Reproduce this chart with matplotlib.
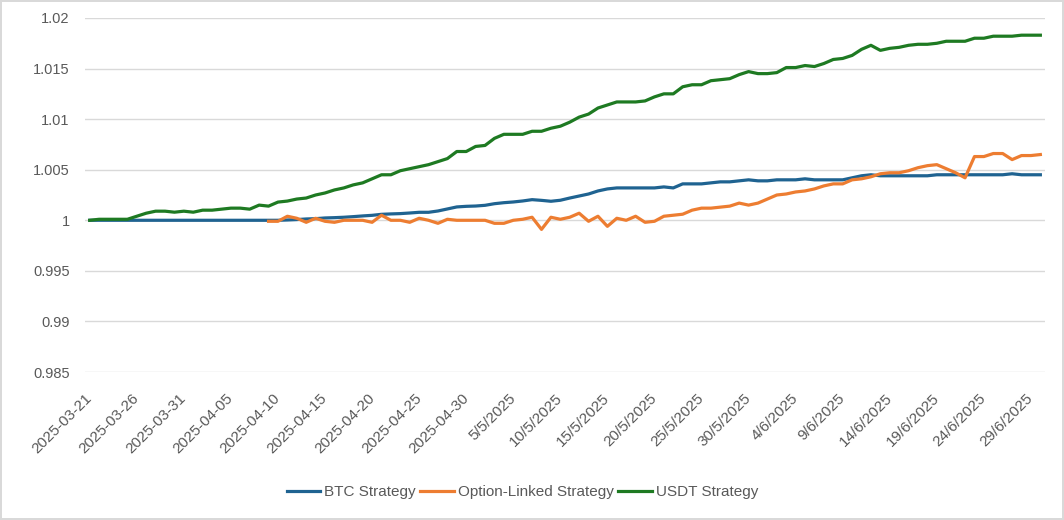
import matplotlib.pyplot as plt
import numpy as np
import pandas as pd
from matplotlib.ticker import FuncFormatter

plt.rcParams['font.family'] = ['Liberation Sans', 'DejaVu Sans']

dates = pd.date_range('2025-03-21', '2025-06-30', freq='D')

tick_labels = ['2025-03-21', '2025-03-26', '2025-03-31', '2025-04-05', '2025-04-10',
               '2025-04-15', '2025-04-20', '2025-04-25', '2025-04-30', '5/5/2025',
               '10/5/2025', '15/5/2025', '20/5/2025', '25/5/2025', '30/5/2025',
               '4/6/2025', '9/6/2025', '14/6/2025', '19/6/2025', '24/6/2025', '29/6/2025']

btc = [1.0000] * 21 + [
    1.00003, 1.00007, 1.00013, 1.00016, 1.00023, 1.00026, 1.00030, 1.00036, 1.00043,
    1.00049, 1.00059, 1.00063, 1.00066, 1.00072, 1.00079, 1.00079, 1.00092, 1.00112,
    1.00132, 1.00138, 1.00141, 1.00148, 1.00164, 1.00174, 1.00181, 1.00191, 1.00204,
    1.00197, 1.00188, 1.00198,
    1.0022, 1.0024, 1.0026, 1.0029, 1.0031, 1.0032, 1.0032, 1.0032, 1.0032, 1.0032,
    1.0033, 1.0032, 1.0036, 1.0036, 1.0036, 1.0037, 1.0038, 1.0038, 1.0039, 1.0040,
    1.0039, 1.0039, 1.0040, 1.0040, 1.0040, 1.0041, 1.0040, 1.0040, 1.0040, 1.0040,
    1.0042, 1.0044, 1.0045, 1.0044, 1.0044, 1.0044, 1.0044, 1.0044, 1.0044, 1.0045,
    1.0045, 1.0045, 1.0045, 1.0045, 1.0045, 1.0045, 1.0045, 1.0046, 1.0045, 1.0045,
    1.0045]

option = [np.nan] * 19 + [
    0.9999, 0.9999, 1.0004, 1.0002, 0.9998, 1.0002, 0.9999, 0.9998, 1.0000, 1.0000,
    1.0000, 0.9998, 1.0005, 1.0000, 1.0000, 0.9998, 1.0002, 1.0000, 0.9997, 1.0001,
    1.0000, 1.0000, 1.0000, 1.0000, 0.9997, 0.9997, 1.0000, 1.0001, 1.0003, 0.9991,
    1.0003, 1.0001,
    1.0003, 1.0007, 0.9999, 1.0004, 0.9994, 1.0002, 1.0000, 1.0004, 0.9998, 0.9999,
    1.0004, 1.0005, 1.0006, 1.0010, 1.0012, 1.0012, 1.0013, 1.0014, 1.0017, 1.0015,
    1.0017, 1.0021, 1.0025, 1.0026, 1.0028, 1.0029, 1.0031, 1.0034, 1.0036, 1.0036,
    1.0040, 1.0041, 1.0043, 1.0046, 1.0047, 1.0047, 1.0049, 1.0052, 1.0054, 1.0055,
    1.0051, 1.0047, 1.0042, 1.0063, 1.0063, 1.0066, 1.0066, 1.0060, 1.0064, 1.0064,
    1.0065]

usdt = [
    1.0000, 1.0001, 1.0001, 1.0001, 1.0001, 1.0004, 1.0007, 1.0009, 1.0009, 1.0008,
    1.0009, 1.0008, 1.0010, 1.0010, 1.0011, 1.0012, 1.0012, 1.0011, 1.0015, 1.0014,
    1.0018, 1.0019, 1.0021, 1.0022, 1.0025, 1.0027, 1.0030, 1.0032, 1.0035, 1.0037,
    1.0041, 1.0045, 1.0045, 1.0049, 1.0051, 1.0053, 1.0055, 1.0058, 1.0061, 1.0068,
    1.0068, 1.0073, 1.0074, 1.0081, 1.0085, 1.0085, 1.0085, 1.0088, 1.0088, 1.0091,
    1.0093, 1.0097, 1.0102, 1.0105, 1.0111, 1.0114, 1.0117, 1.0117, 1.0117, 1.0118,
    1.0122, 1.0125, 1.0125, 1.0132, 1.0134, 1.0134, 1.0138, 1.0139, 1.0140, 1.0144,
    1.0147, 1.0145, 1.0145, 1.0146, 1.0151, 1.0151, 1.0153, 1.0152, 1.0155, 1.0159,
    1.0160, 1.0163, 1.0169, 1.0173, 1.0168, 1.0170, 1.0171, 1.0173, 1.0174, 1.0174,
    1.0175, 1.0177, 1.0177, 1.0177, 1.0180, 1.0180, 1.0182, 1.0182, 1.0182, 1.0183,
    1.0183, 1.0183]

x = np.arange(len(dates))

fig = plt.figure(figsize=(10.64, 5.2), dpi=100)
fig.patch.set_edgecolor('#d9d9d9')
fig.patch.set_linewidth(1.5)
ax = fig.add_axes([0.0799, 0.2846, 0.9023, 0.6808])

ax.plot(x, btc, color='#1f6391', lw=2.3, label='BTC Strategy')
ax.plot(x, option, color='#ed7d31', lw=2.3, label='Option-Linked Strategy')
ax.plot(x, usdt, color='#1e7a22', lw=2.3, label='USDT Strategy')

ax.set_xlim(-0.5, len(x) - 0.5)
ax.set_ylim(0.985, 1.02)
ax.set_yticks(np.arange(0.985, 1.0201, 0.005))
ax.yaxis.set_major_formatter(FuncFormatter(lambda v, p: '{:g}'.format(round(v, 3))))
ax.grid(axis='y', color='#d9d9d9', lw=1)
ax.set_axisbelow(True)
for s in ax.spines.values():
    s.set_visible(False)

ax.set_xticks(x[::5])
ax.set_xticklabels(tick_labels, rotation=45, ha='right', va='center',
                   rotation_mode='anchor')
ax.tick_params(axis='both', length=0, labelcolor='#595959')
ax.tick_params(axis='x', pad=17, labelsize=11)
ax.tick_params(axis='y', pad=11, labelsize=10.5)

fig.legend(loc='center', bbox_to_anchor=(0.491, 0.054), ncol=3, frameon=False,
           fontsize=11, labelcolor='#595959', handlelength=2.2, handletextpad=0.25,
           columnspacing=0.3)

fig.savefig('out.png', dpi=100, edgecolor=fig.get_edgecolor())
